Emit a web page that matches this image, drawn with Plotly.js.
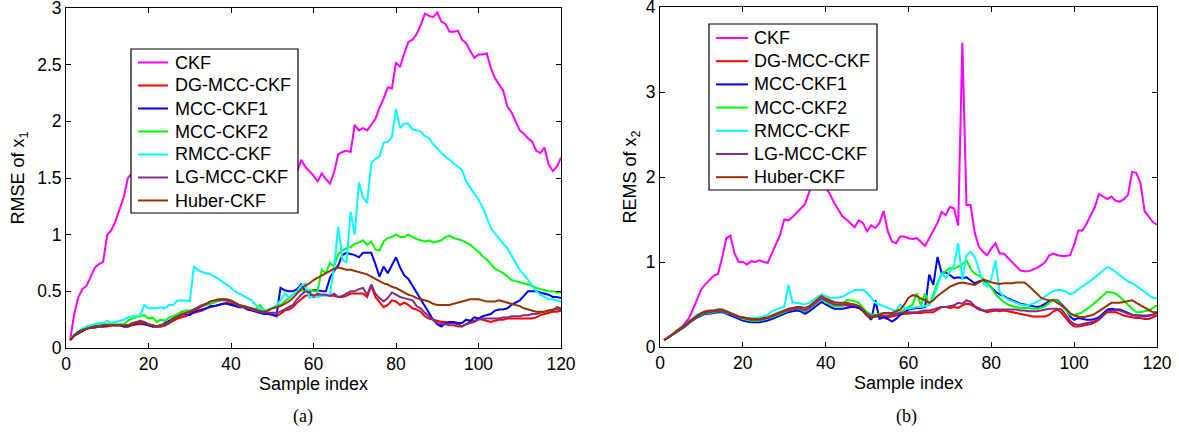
<!DOCTYPE html>
<html>
<head>
<meta charset="utf-8">
<script src="https://cdn.plot.ly/plotly-3.0.1.min.js"></script>
<style>html,body{margin:0;padding:0;background:#fff;}#chart{width:1179px;height:436px;}</style>
</head>
<body>
<div id="chart"></div>
<script>
// Sample index 1..120
const sampleIndex = Array.from({length: 120}, (_, i) => i + 1);
const seriesNames = ["CKF", "DG-MCC-CKF", "MCC-CKF1", "MCC-CKF2", "RMCC-CKF", "LG-MCC-CKF", "Huber-CKF"];
const seriesColors = ["#FF00FF", "#FF0000", "#0000FF", "#00FF00", "#00FFFF", "#7E2F8E", "#993300"];
const xTicks = [0, 20, 40, 60, 80, 100, 120];
const yTicksA = [0, 0.5, 1, 1.5, 2, 2.5, 3];
const yTicksB = [0, 1, 2, 3, 4];

// ---- (a) RMSE of x1 ----
const a_CKF = [0.07,0.3,0.45,0.52,0.55,0.63,0.71,0.74,0.76,1.0,1.04,1.12,1.22,1.33,1.5,1.54,1.58,1.62,1.65,1.7,1.72,1.75,1.73,1.78,1.8,1.82,1.85,1.83,1.86,1.88,1.9,1.87,1.85,1.88,1.84,1.82,1.8,1.78,1.8,1.77,1.75,1.72,1.7,1.72,1.68,1.66,1.65,1.62,1.6,1.62,1.58,1.56,1.58,1.55,1.52,1.55,1.66,1.6,1.56,1.52,1.47,1.54,1.49,1.45,1.55,1.71,1.73,1.74,1.73,1.97,1.92,1.94,1.92,1.97,2.02,2.12,2.2,2.3,2.29,2.52,2.48,2.6,2.7,2.72,2.77,2.85,2.95,2.93,2.92,2.96,2.88,2.86,2.79,2.79,2.8,2.72,2.69,2.62,2.56,2.59,2.59,2.6,2.47,2.38,2.32,2.27,2.13,2.08,2.0,1.92,1.89,1.85,1.82,1.74,1.72,1.77,1.62,1.56,1.6,1.68];
const a_DG = [0.07,0.11,0.13,0.15,0.17,0.18,0.18,0.19,0.19,0.19,0.2,0.2,0.2,0.19,0.19,0.2,0.21,0.21,0.21,0.2,0.19,0.19,0.19,0.2,0.22,0.24,0.26,0.27,0.28,0.3,0.31,0.32,0.33,0.35,0.36,0.37,0.38,0.39,0.4,0.39,0.38,0.37,0.36,0.35,0.34,0.33,0.32,0.31,0.3,0.29,0.28,0.3,0.33,0.34,0.36,0.4,0.43,0.46,0.47,0.45,0.46,0.47,0.47,0.46,0.46,0.45,0.45,0.46,0.48,0.48,0.48,0.48,0.45,0.55,0.45,0.4,0.36,0.38,0.42,0.41,0.38,0.4,0.38,0.35,0.34,0.32,0.28,0.26,0.25,0.24,0.23,0.23,0.22,0.22,0.21,0.19,0.21,0.23,0.24,0.26,0.25,0.24,0.23,0.24,0.25,0.25,0.26,0.26,0.26,0.26,0.26,0.26,0.26,0.27,0.29,0.3,0.31,0.32,0.32,0.33];
const a_MCC1 = [0.07,0.11,0.13,0.15,0.17,0.18,0.18,0.19,0.19,0.2,0.2,0.2,0.2,0.19,0.19,0.21,0.21,0.22,0.21,0.2,0.19,0.19,0.2,0.22,0.24,0.26,0.28,0.29,0.3,0.29,0.32,0.33,0.34,0.35,0.37,0.37,0.38,0.39,0.39,0.38,0.37,0.36,0.36,0.34,0.33,0.32,0.31,0.3,0.3,0.3,0.28,0.53,0.51,0.5,0.5,0.52,0.56,0.5,0.5,0.51,0.51,0.5,0.5,0.62,0.68,0.73,0.82,0.84,0.83,0.82,0.8,0.84,0.84,0.84,0.74,0.63,0.72,0.66,0.73,0.8,0.71,0.64,0.61,0.55,0.49,0.43,0.37,0.3,0.25,0.21,0.19,0.22,0.23,0.23,0.22,0.22,0.25,0.24,0.27,0.26,0.28,0.29,0.3,0.33,0.34,0.34,0.35,0.38,0.4,0.42,0.46,0.5,0.5,0.5,0.49,0.48,0.47,0.45,0.45,0.44];
const a_MCC2 = [0.07,0.11,0.14,0.16,0.18,0.19,0.2,0.2,0.21,0.21,0.21,0.21,0.21,0.21,0.24,0.26,0.27,0.28,0.29,0.26,0.27,0.23,0.25,0.24,0.27,0.28,0.3,0.32,0.33,0.33,0.34,0.35,0.37,0.38,0.39,0.4,0.42,0.42,0.42,0.41,0.39,0.38,0.37,0.36,0.35,0.34,0.38,0.33,0.34,0.35,0.37,0.38,0.41,0.44,0.47,0.49,0.51,0.5,0.51,0.5,0.5,0.69,0.66,0.75,0.72,0.83,0.86,0.88,0.89,0.92,0.93,0.95,0.91,0.94,0.87,0.86,0.94,0.97,0.98,1.0,0.98,0.98,1.0,0.98,0.96,0.95,0.94,0.95,0.93,0.94,0.95,0.98,0.99,0.97,0.96,0.95,0.93,0.91,0.88,0.85,0.81,0.78,0.74,0.7,0.68,0.66,0.63,0.6,0.59,0.58,0.57,0.56,0.55,0.53,0.52,0.51,0.5,0.5,0.49,0.49];
const a_RMCC = [0.07,0.12,0.15,0.17,0.19,0.2,0.21,0.22,0.22,0.24,0.22,0.23,0.24,0.25,0.27,0.28,0.28,0.29,0.38,0.35,0.35,0.35,0.36,0.35,0.38,0.38,0.42,0.42,0.42,0.41,0.72,0.69,0.67,0.66,0.65,0.63,0.61,0.58,0.56,0.53,0.5,0.48,0.46,0.44,0.42,0.38,0.35,0.34,0.33,0.35,0.38,0.42,0.48,0.45,0.47,0.5,0.55,0.57,0.44,0.46,0.45,0.46,0.46,0.47,0.72,1.07,0.78,0.75,1.2,1.0,1.46,1.33,1.28,1.63,1.67,1.69,1.81,1.82,1.86,2.11,1.94,1.98,1.98,1.93,1.92,1.91,1.87,1.85,1.8,1.76,1.72,1.69,1.66,1.63,1.6,1.57,1.47,1.41,1.36,1.31,1.24,1.15,1.06,1.01,0.96,0.92,0.88,0.82,0.75,0.69,0.65,0.6,0.55,0.5,0.47,0.45,0.43,0.43,0.42,0.41];
const a_LG = [0.07,0.11,0.14,0.16,0.17,0.18,0.19,0.19,0.2,0.2,0.2,0.2,0.2,0.2,0.2,0.22,0.23,0.24,0.23,0.21,0.2,0.19,0.2,0.21,0.23,0.26,0.28,0.3,0.31,0.32,0.34,0.36,0.38,0.39,0.41,0.42,0.42,0.43,0.42,0.41,0.39,0.37,0.36,0.35,0.34,0.33,0.32,0.31,0.31,0.31,0.31,0.32,0.34,0.36,0.38,0.43,0.47,0.5,0.49,0.46,0.48,0.47,0.47,0.46,0.48,0.45,0.46,0.48,0.5,0.5,0.52,0.53,0.47,0.56,0.48,0.44,0.41,0.44,0.49,0.47,0.45,0.44,0.43,0.42,0.37,0.35,0.31,0.28,0.25,0.22,0.21,0.21,0.2,0.2,0.19,0.19,0.21,0.22,0.23,0.25,0.26,0.26,0.26,0.26,0.26,0.27,0.27,0.28,0.28,0.28,0.29,0.29,0.3,0.3,0.31,0.32,0.33,0.34,0.34,0.34];
const a_Huber = [0.07,0.11,0.14,0.16,0.17,0.18,0.19,0.19,0.2,0.2,0.2,0.2,0.2,0.2,0.2,0.21,0.22,0.22,0.22,0.21,0.2,0.19,0.19,0.2,0.22,0.25,0.27,0.29,0.31,0.32,0.33,0.35,0.37,0.39,0.41,0.42,0.43,0.43,0.43,0.42,0.4,0.38,0.37,0.36,0.35,0.34,0.33,0.32,0.33,0.35,0.36,0.37,0.39,0.41,0.44,0.48,0.52,0.55,0.57,0.6,0.62,0.64,0.66,0.68,0.7,0.71,0.7,0.69,0.69,0.68,0.67,0.66,0.65,0.63,0.61,0.59,0.57,0.56,0.54,0.53,0.51,0.49,0.47,0.46,0.44,0.43,0.42,0.41,0.39,0.38,0.38,0.38,0.38,0.39,0.4,0.41,0.42,0.43,0.43,0.43,0.42,0.41,0.41,0.41,0.42,0.41,0.4,0.39,0.38,0.37,0.35,0.34,0.33,0.32,0.32,0.32,0.33,0.33,0.36,0.35];

// ---- (b) REMS of x2 ----
const b_CKF = [0.08,0.11,0.15,0.18,0.22,0.28,0.34,0.45,0.57,0.68,0.74,0.79,0.84,0.86,1.05,1.28,1.31,1.1,1.0,1.0,0.97,1.01,1.0,1.02,1.0,0.99,1.1,1.2,1.32,1.5,1.49,1.53,1.58,1.64,1.68,1.82,1.95,2.0,2.02,1.88,1.8,1.7,1.62,1.54,1.5,1.45,1.41,1.49,1.46,1.36,1.43,1.4,1.46,1.6,1.36,1.24,1.22,1.3,1.3,1.28,1.27,1.28,1.24,1.19,1.28,1.38,1.46,1.59,1.55,1.65,1.63,1.43,3.58,1.67,1.67,1.34,1.18,1.12,1.08,1.16,1.22,1.1,1.1,1.05,1.0,0.95,0.9,0.89,0.89,0.91,0.93,0.96,1.0,1.08,1.1,1.08,1.07,1.07,1.08,1.2,1.37,1.37,1.45,1.55,1.65,1.8,1.77,1.74,1.77,1.72,1.71,1.74,1.79,2.06,2.05,1.93,1.6,1.53,1.47,1.44];
const b_DG = [0.08,0.11,0.15,0.18,0.21,0.25,0.29,0.33,0.36,0.38,0.4,0.4,0.41,0.42,0.42,0.4,0.39,0.37,0.35,0.33,0.32,0.31,0.31,0.31,0.32,0.34,0.35,0.37,0.39,0.41,0.43,0.44,0.45,0.44,0.42,0.45,0.49,0.53,0.57,0.55,0.53,0.5,0.49,0.49,0.49,0.48,0.48,0.47,0.43,0.38,0.35,0.36,0.36,0.36,0.35,0.36,0.37,0.38,0.39,0.39,0.4,0.4,0.4,0.41,0.41,0.41,0.44,0.47,0.47,0.46,0.47,0.46,0.49,0.51,0.5,0.47,0.44,0.43,0.41,0.42,0.43,0.42,0.43,0.42,0.41,0.4,0.39,0.38,0.37,0.36,0.36,0.36,0.36,0.38,0.42,0.44,0.4,0.34,0.28,0.24,0.24,0.25,0.26,0.27,0.29,0.32,0.37,0.41,0.41,0.41,0.39,0.37,0.36,0.35,0.34,0.34,0.33,0.33,0.35,0.37];
const b_MCC1 = [0.08,0.11,0.14,0.17,0.2,0.24,0.28,0.32,0.35,0.37,0.39,0.39,0.4,0.41,0.41,0.39,0.37,0.35,0.33,0.31,0.3,0.29,0.29,0.29,0.3,0.31,0.33,0.35,0.37,0.39,0.41,0.42,0.43,0.42,0.39,0.42,0.46,0.5,0.53,0.5,0.47,0.45,0.45,0.45,0.46,0.47,0.47,0.46,0.42,0.37,0.32,0.55,0.33,0.35,0.33,0.3,0.33,0.38,0.41,0.44,0.45,0.46,0.46,0.47,0.85,0.73,1.06,0.87,0.88,0.84,0.81,0.82,0.81,0.82,0.79,0.75,0.77,0.79,0.75,0.7,0.65,0.62,0.6,0.57,0.55,0.53,0.51,0.5,0.49,0.48,0.47,0.48,0.51,0.54,0.55,0.55,0.5,0.45,0.36,0.32,0.34,0.33,0.32,0.32,0.33,0.35,0.4,0.44,0.45,0.44,0.44,0.42,0.4,0.38,0.37,0.37,0.36,0.37,0.38,0.4];
const b_MCC2 = [0.08,0.11,0.15,0.18,0.21,0.25,0.29,0.33,0.36,0.38,0.4,0.4,0.41,0.42,0.42,0.4,0.39,0.37,0.35,0.33,0.32,0.31,0.31,0.31,0.32,0.34,0.35,0.37,0.39,0.41,0.43,0.44,0.45,0.44,0.42,0.45,0.49,0.53,0.56,0.53,0.5,0.48,0.48,0.48,0.55,0.55,0.54,0.52,0.46,0.41,0.38,0.38,0.39,0.4,0.4,0.4,0.4,0.41,0.44,0.47,0.5,0.63,0.49,0.63,0.49,0.62,0.76,0.86,0.9,0.93,0.92,0.95,0.97,1.02,0.92,0.86,0.84,0.81,0.76,0.7,0.62,0.57,0.53,0.5,0.48,0.47,0.46,0.46,0.46,0.45,0.45,0.46,0.48,0.52,0.56,0.54,0.49,0.43,0.38,0.38,0.39,0.41,0.44,0.48,0.52,0.56,0.61,0.65,0.64,0.63,0.59,0.54,0.5,0.45,0.41,0.41,0.42,0.43,0.46,0.49];
const b_RMCC = [0.08,0.11,0.15,0.19,0.22,0.26,0.3,0.34,0.38,0.4,0.41,0.42,0.43,0.44,0.44,0.42,0.4,0.38,0.36,0.35,0.34,0.34,0.34,0.35,0.36,0.38,0.42,0.44,0.46,0.47,0.73,0.52,0.52,0.51,0.5,0.52,0.55,0.58,0.62,0.6,0.58,0.58,0.58,0.59,0.62,0.65,0.67,0.67,0.67,0.64,0.58,0.52,0.5,0.48,0.46,0.44,0.42,0.5,0.46,0.45,0.46,0.47,0.47,0.48,0.5,0.58,0.72,0.87,0.81,0.88,0.96,1.22,0.79,1.08,1.12,1.06,0.92,0.75,0.71,0.8,1.02,0.65,0.59,0.56,0.54,0.52,0.5,0.49,0.49,0.51,0.53,0.56,0.6,0.63,0.66,0.67,0.67,0.65,0.62,0.64,0.68,0.71,0.75,0.78,0.82,0.86,0.9,0.94,0.92,0.88,0.84,0.8,0.77,0.75,0.72,0.68,0.65,0.61,0.58,0.57];
const b_LG = [0.08,0.11,0.15,0.18,0.21,0.25,0.29,0.33,0.36,0.39,0.4,0.41,0.42,0.42,0.42,0.41,0.39,0.37,0.35,0.34,0.33,0.32,0.32,0.32,0.33,0.34,0.36,0.38,0.4,0.42,0.43,0.44,0.45,0.45,0.43,0.46,0.5,0.54,0.57,0.55,0.52,0.5,0.5,0.5,0.5,0.5,0.49,0.48,0.44,0.39,0.36,0.37,0.38,0.37,0.37,0.38,0.39,0.4,0.41,0.41,0.41,0.41,0.42,0.43,0.43,0.44,0.46,0.47,0.47,0.48,0.49,0.52,0.51,0.55,0.53,0.48,0.45,0.43,0.43,0.44,0.44,0.44,0.44,0.44,0.44,0.44,0.43,0.43,0.42,0.42,0.42,0.43,0.44,0.45,0.45,0.45,0.44,0.38,0.31,0.27,0.26,0.27,0.28,0.29,0.31,0.33,0.38,0.42,0.43,0.43,0.43,0.41,0.39,0.38,0.37,0.37,0.37,0.37,0.38,0.4];
const b_Huber = [0.08,0.11,0.15,0.19,0.22,0.26,0.3,0.34,0.37,0.4,0.42,0.43,0.43,0.44,0.44,0.42,0.4,0.38,0.36,0.35,0.34,0.33,0.33,0.33,0.34,0.35,0.37,0.39,0.41,0.43,0.45,0.46,0.47,0.47,0.46,0.48,0.52,0.56,0.6,0.57,0.55,0.53,0.52,0.52,0.52,0.51,0.5,0.48,0.43,0.37,0.34,0.36,0.38,0.4,0.4,0.4,0.42,0.44,0.5,0.58,0.61,0.6,0.57,0.55,0.52,0.55,0.6,0.64,0.68,0.71,0.73,0.75,0.76,0.75,0.74,0.73,0.76,0.79,0.78,0.76,0.75,0.74,0.75,0.75,0.75,0.76,0.76,0.76,0.72,0.67,0.62,0.58,0.56,0.55,0.55,0.52,0.49,0.45,0.4,0.37,0.36,0.35,0.36,0.37,0.39,0.42,0.45,0.49,0.52,0.52,0.52,0.53,0.54,0.55,0.52,0.49,0.46,0.43,0.41,0.41];

const seriesA = [a_CKF, a_DG, a_MCC1, a_MCC2, a_RMCC, a_LG, a_Huber];
const seriesB = [b_CKF, b_DG, b_MCC1, b_MCC2, b_RMCC, b_LG, b_Huber];

const traces = [];
seriesA.forEach((ys, i) => traces.push({
  x: sampleIndex, y: ys, type: 'scatter', mode: 'lines', name: seriesNames[i], showlegend: false,
  line: {color: seriesColors[i], width: 2}, xaxis: 'x', yaxis: 'y'
}));
seriesB.forEach((ys, i) => traces.push({
  x: sampleIndex, y: ys, type: 'scatter', mode: 'lines', name: seriesNames[i], showlegend: false,
  line: {color: seriesColors[i], width: 2}, xaxis: 'x2', yaxis: 'y2'
}));

const W = 1179, H = 436;
const px = v => v / W;          // pixel -> paper x
const py = v => 1 - v / H;      // pixel -> paper y
const F = {family: 'Liberation Sans, Arial, sans-serif', size: 17.5, color: '#000'};
const FT = {family: 'Liberation Sans, Arial, sans-serif', size: 18, color: '#000'};
const FL = {family: 'Liberation Sans, Arial, sans-serif', size: 18, color: '#000'};
const FC = {family: 'Liberation Serif, Times New Roman, serif', size: 18, color: '#000'};
function axisBase(extra) {
  return Object.assign({
    showline: true, linecolor: '#000', linewidth: 1, mirror: 'ticks',
    ticks: 'inside', ticklen: 5, tickcolor: '#000', tickwidth: 1,
    showgrid: false, zeroline: false, tickfont: F, ticklabeloverflow: 'allow'
  }, extra);
}

// Legend boxes drawn in layout (box, sample line, label)
const legendBoxes = [
  {left: 131, top: 49, right: 298, bottom: 213, lineX0: 138, lineX1: 168, textX: 173, firstY: 62.5, step: 23},
  {left: 709, top: 24, right: 877, bottom: 190, lineX0: 716, lineX1: 748, textX: 752, firstY: 38, step: 23.2}
];
const shapes = [];
const annotations = [];
legendBoxes.forEach(b => {
  shapes.push({type: 'rect', xref: 'paper', yref: 'paper', x0: px(b.left), x1: px(b.right), y0: py(b.bottom), y1: py(b.top),
    fillcolor: '#fff', line: {color: '#000', width: 1.2}, layer: 'above'});
  seriesNames.forEach((n, i) => {
    const yy = b.firstY + i * b.step;
    shapes.push({type: 'line', xref: 'paper', yref: 'paper', x0: px(b.lineX0), x1: px(b.lineX1), y0: py(yy), y1: py(yy),
      line: {color: seriesColors[i], width: 2}, layer: 'above'});
    annotations.push({text: n, xref: 'paper', yref: 'paper', x: px(b.textX), y: py(yy), xanchor: 'left', yanchor: 'middle',
      showarrow: false, font: FL});
  });
});
annotations.push({text: '(a)', xref: 'paper', yref: 'paper', x: px(303), y: py(416), xanchor: 'center', yanchor: 'middle', showarrow: false, font: FC});
annotations.push({text: '(b)', xref: 'paper', yref: 'paper', x: px(906), y: py(416), xanchor: 'center', yanchor: 'middle', showarrow: false, font: FC});

const layout = {
  width: W, height: H, margin: {l: 0, r: 0, t: 0, b: 0},
  paper_bgcolor: '#fff', plot_bgcolor: '#fff', font: F, showlegend: false,
  xaxis: axisBase({domain: [px(66), px(561)], range: [0, 120], tickvals: xTicks, anchor: 'y',
    title: {text: 'Sample index', font: FT, standoff: 0}}),
  yaxis: axisBase({domain: [py(348), py(8)], range: [0, 3], tickvals: yTicksA, anchor: 'x',
    title: {text: 'RMSE of x<sub>1</sub>', font: FT, standoff: 7}}),
  xaxis2: axisBase({domain: [px(660), px(1157)], range: [0, 120], tickvals: xTicks, anchor: 'y2',
    title: {text: 'Sample index', font: FT, standoff: 0}}),
  yaxis2: axisBase({domain: [py(347), py(7)], range: [0, 4], tickvals: yTicksB, anchor: 'x2',
    title: {text: 'REMS of x<sub>2</sub>', font: FT, standoff: 4}}),
  shapes: shapes,
  annotations: annotations
};

Plotly.newPlot('chart', traces, layout, {displayModeBar: false, staticPlot: true});
</script>
</body>
</html>
